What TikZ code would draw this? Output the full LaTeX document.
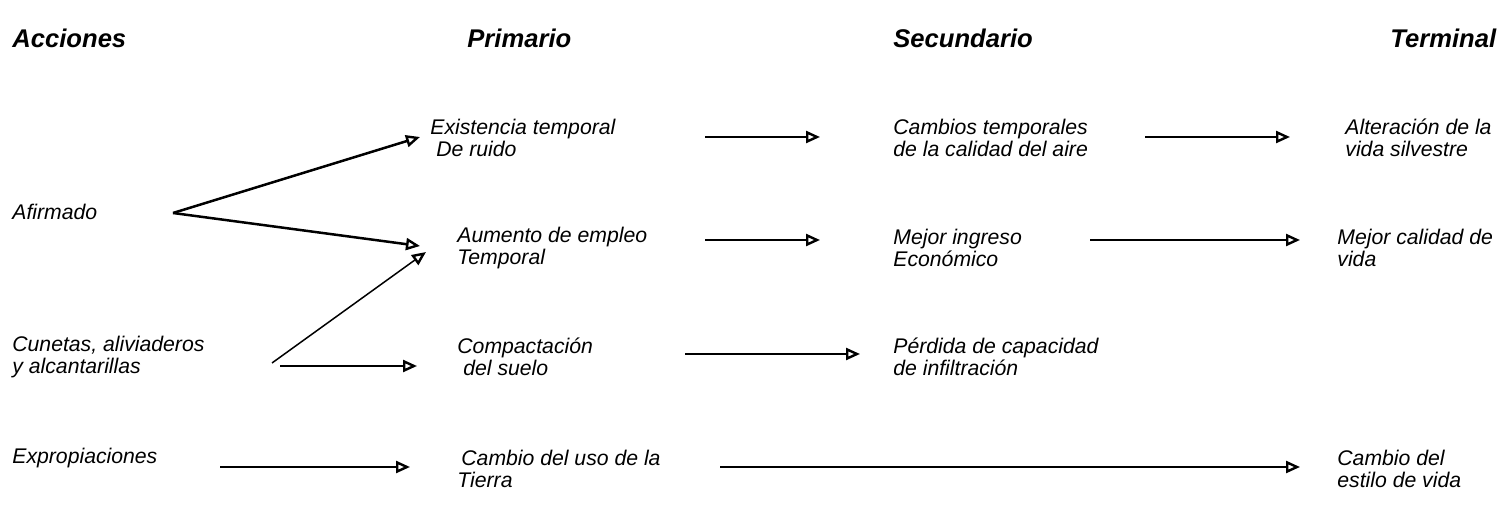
\documentclass[tikz,border=0pt]{standalone}
\usepackage{fontspec}
\setmainfont{Liberation Sans}
\usetikzlibrary{arrows.meta}
\tikzset{
  txt/.style={anchor=west, inner sep=0pt, align=left, font=\fontsize{10.6}{11}\selectfont\itshape},
  hdr/.style={anchor=west, inner sep=0pt, font=\fontsize{12.8}{14}\selectfont\bfseries\itshape},
  arr/.style={line width=1.25pt, -{Triangle[open, length=7pt, width=6pt, line width=1.2pt]}},
  arrthin/.style={line width=0.75pt, -{Triangle[open, length=7pt, width=6pt, line width=1.2pt]}}
}
\begin{document}
\begin{tikzpicture}[x=0.5pt, y=-0.5pt]
\useasboundingbox (0,0) rectangle (1510,523);
% headers
\node[hdr] (hAcc) at (12,38) {Acciones};
\node[hdr] (hPri) at (467,38) {Primario};
\node[hdr] (hSec) at (893,38) {Secundario};
\node[hdr] (hTer) at (1390,38) {Terminal};
% actions
\node[txt] (afirm) at (12,212) {Afirmado};
\node[txt] (cunetas) at (12,357) {Cunetas, aliviaderos\\y alcantarillas};
\node[txt] (expro) at (12,458) {Expropiaciones};
% primary
\node[txt] (ruido) at (430,138) {Existencia temporal\\\hspace*{3pt}De ruido};
\node[txt] (empleo) at (457,248) {Aumento de empleo\\Temporal};
\node[txt] (compac) at (457,357) {Compactación\\\hspace*{3pt}del suelo};
\node[txt] (uso) at (457,469) {\hspace*{2pt}Cambio del uso de la\\Tierra};
% secondary
\node[txt] (aire) at (893,138) {Cambios temporales\\de la calidad del aire};
\node[txt] (ingreso) at (893,248) {Mejor ingreso\\Económico};
\node[txt] (infil) at (893,357) {Pérdida de capacidad\\de infiltración};
% terminal
\node[txt] (silv) at (1345,138) {Alteración de la\\vida silvestre};
\node[txt] (calidad) at (1337,248) {Mejor calidad de\\vida};
\node[txt] (estilo) at (1337,469) {Cambio del\\estilo de vida};
% connector end points
\coordinate (afirmOut) at (173,213);
\coordinate (ruidoIn) at (420,137);
\coordinate (empleoIn) at (420,246);
\coordinate (cunOutA) at (272,363);
\coordinate (empleoIn2) at (426,252);
\coordinate (cunOutB) at (280,366);
\coordinate (compacIn) at (417,366);
\coordinate (ruidoOut) at (705,137);
\coordinate (aireIn) at (820,137);
\coordinate (aireOut) at (1145,137);
\coordinate (silvIn) at (1290,137);
\coordinate (empleoOut) at (705,240);
\coordinate (ingresoIn) at (820,240);
\coordinate (ingresoOut) at (1090,240);
\coordinate (calidadIn) at (1300,240);
\coordinate (compacOut) at (685,354);
\coordinate (infilIn) at (860,354);
\coordinate (exproOut) at (220,467);
\coordinate (usoIn) at (410,467);
\coordinate (usoOut) at (720,467);
\coordinate (estiloIn) at (1300,467);
% connectors
\draw[arr] (afirmOut) -- (ruidoIn);
\draw[arr] (afirmOut) -- (empleoIn);
\draw[arrthin] (cunOutA) -- (empleoIn2);
\draw[arr] (cunOutB) -- (compacIn);
\draw[arr] (ruidoOut) -- (aireIn);
\draw[arr] (aireOut) -- (silvIn);
\draw[arr] (empleoOut) -- (ingresoIn);
\draw[arr] (ingresoOut) -- (calidadIn);
\draw[arr] (compacOut) -- (infilIn);
\draw[arr] (exproOut) -- (usoIn);
\draw[arr] (usoOut) -- (estiloIn);
\end{tikzpicture}
\end{document}
